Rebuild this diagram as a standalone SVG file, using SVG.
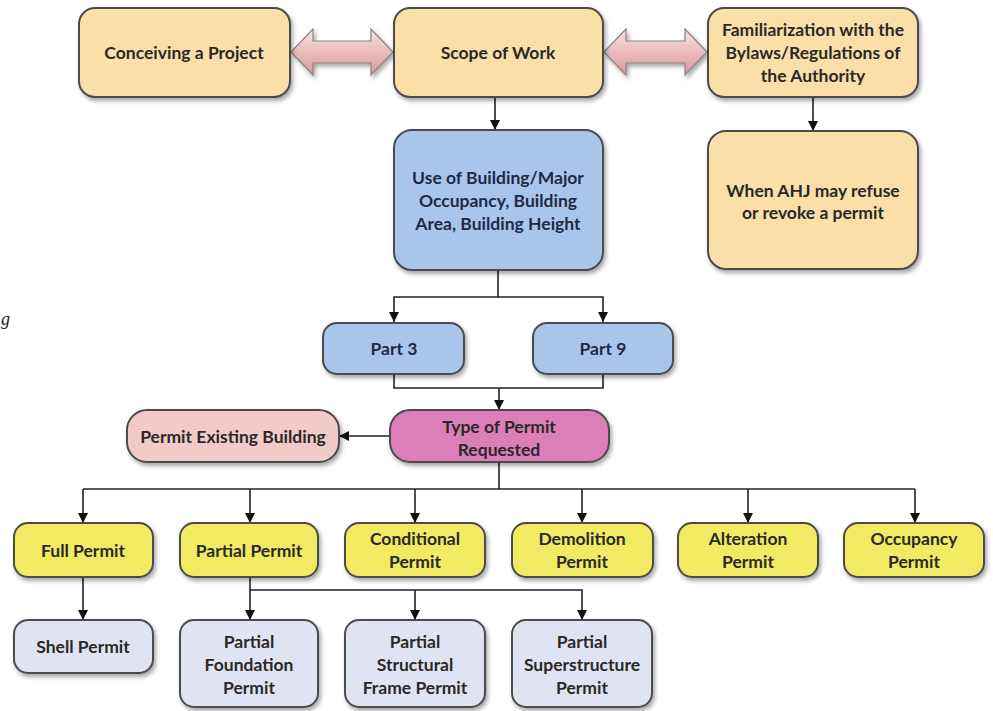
<svg xmlns="http://www.w3.org/2000/svg" width="993" height="711" viewBox="0 0 993 711">
<defs>
<filter id="sh" x="-10%" y="-10%" width="130%" height="140%">
<feDropShadow dx="2" dy="3" stdDeviation="2" flood-color="#000" flood-opacity="0.35"/>
</filter>
<linearGradient id="dg" x1="0" y1="0" x2="0" y2="1">
<stop offset="0" stop-color="#f7e2e2"/>
<stop offset="0.5" stop-color="#e9bcbc"/>
<stop offset="1" stop-color="#d49a9a"/>
</linearGradient>
<marker id="ah" viewBox="0 0 10 10" refX="10" refY="5" markerWidth="10" markerHeight="10" markerUnits="userSpaceOnUse" orient="auto">
<path d="M0,0 L10,5 L0,10 z" fill="#111"/>
</marker>
<style>
.n rect{stroke:#4b4b4b;stroke-width:2;filter:url(#sh)}
.tan rect{fill:#fae0a8}
.blue rect{fill:#a9c6ea}
.pink rect{fill:#dc7fb8}
.lpink rect{fill:#f3caca}
.yel rect{fill:#f1ea62}
.lav rect{fill:#e0e4f2}
text{font-family:Lato,"Liberation Sans",sans-serif;font-weight:bold;font-size:17.5px;text-anchor:middle;dominant-baseline:central;fill:#2b2826}
.blue text{fill:#1e2a45}
.c path,.c line,.c polyline{stroke:#222;stroke-width:1.6;fill:none}
.dbl{fill:url(#dg);stroke:#8a8080;stroke-width:1.2;filter:url(#sh)}
</style>
</defs>
<rect width="993" height="711" fill="#fff"/>
<text x="1" y="319" style="font-family:'Liberation Serif',serif;font-style:italic;font-weight:normal;font-size:18px;text-anchor:start;fill:#222">g</text>

<g id="connectors" class="c">
<polygon class="dbl" points="291,52 313,29 313,41 371,41 371,29 393,52 371,75 371,63 313,63 313,75"/>
<polygon class="dbl" points="604,52 626,29 626,41 685,41 685,29 707,52 685,75 685,63 626,63 626,75"/>
<line x1="495" y1="97" x2="495" y2="130" marker-end="url(#ah)"/>
<line x1="813" y1="97" x2="813" y2="131" marker-end="url(#ah)"/>
<polyline points="498,270 498,297 394,297 394,322" marker-end="url(#ah)"/>
<polyline points="498,297 603,297 603,322" marker-end="url(#ah)"/>
<polyline points="394,374 394,388 603,388 603,374"/>
<line x1="499" y1="388" x2="499" y2="410" marker-end="url(#ah)"/>
<line x1="390" y1="436" x2="339" y2="436" marker-end="url(#ah)"/>
<line x1="499" y1="462" x2="499" y2="489"/>
<line x1="83" y1="489" x2="915" y2="489"/>
<line x1="83" y1="489" x2="83" y2="523" marker-end="url(#ah)"/>
<line x1="250" y1="489" x2="250" y2="523" marker-end="url(#ah)"/>
<line x1="415" y1="489" x2="415" y2="523" marker-end="url(#ah)"/>
<line x1="582" y1="489" x2="582" y2="523" marker-end="url(#ah)"/>
<line x1="748" y1="489" x2="748" y2="523" marker-end="url(#ah)"/>
<line x1="915" y1="489" x2="915" y2="523" marker-end="url(#ah)"/>
<line x1="83" y1="577" x2="83" y2="620" marker-end="url(#ah)"/>
<line x1="250" y1="577" x2="250" y2="620" marker-end="url(#ah)"/>
<polyline points="250,590 582,590 582,620" marker-end="url(#ah)"/>
<line x1="415" y1="590" x2="415" y2="620" marker-end="url(#ah)"/>
</g>

<g id="conceiving" class="n tan"><rect x="79" y="8" width="211" height="89" rx="16"/><text x="184" y="52">Conceiving a Project</text></g>
<g id="scope" class="n tan"><rect x="394" y="8" width="209" height="89" rx="16"/><text x="498" y="52">Scope of Work</text></g>
<g id="familiarization" class="n tan"><rect x="708" y="8" width="210" height="89" rx="16"/><text x="813" y="29">Familiarization with the</text><text x="813" y="52">Bylaws/Regulations of</text><text x="813" y="75">the Authority</text></g>
<g id="use" class="n blue"><rect x="394" y="130" width="209" height="140" rx="18"/><text x="498" y="177">Use of Building/Major</text><text x="498" y="200">Occupancy, Building</text><text x="498" y="223">Area, Building Height</text></g>
<g id="ahj" class="n tan"><rect x="708" y="131" width="210" height="138" rx="18"/><text x="813" y="190">When AHJ may refuse</text><text x="813" y="212">or revoke a permit</text></g>
<g id="part3" class="n blue"><rect x="323" y="323" width="141" height="51" rx="14"/><text x="394" y="348">Part 3</text></g>
<g id="part9" class="n blue"><rect x="533" y="323" width="140" height="51" rx="14"/><text x="603" y="348">Part 9</text></g>
<g id="type" class="n pink"><rect x="390" y="410" width="219" height="52" rx="20"/><text x="499" y="426">Type of Permit</text><text x="499" y="449">Requested</text></g>
<g id="existing" class="n lpink"><rect x="127" y="410" width="212" height="52" rx="20"/><text x="233" y="436">Permit Existing Building</text></g>
<g id="full" class="n yel"><rect x="14" y="523" width="139" height="54" rx="14"/><text x="83" y="550">Full Permit</text></g>
<g id="partial" class="n yel"><rect x="180" y="523" width="138" height="54" rx="14"/><text x="249" y="550">Partial Permit</text></g>
<g id="conditional" class="n yel"><rect x="345" y="523" width="140" height="54" rx="14"/><text x="415" y="538">Conditional</text><text x="415" y="561">Permit</text></g>
<g id="demolition" class="n yel"><rect x="512" y="523" width="141" height="54" rx="14"/><text x="582" y="538">Demolition</text><text x="582" y="561">Permit</text></g>
<g id="alteration" class="n yel"><rect x="678" y="523" width="140" height="54" rx="14"/><text x="748" y="538">Alteration</text><text x="748" y="561">Permit</text></g>
<g id="occupancy" class="n yel"><rect x="844" y="523" width="140" height="54" rx="14"/><text x="914" y="538">Occupancy</text><text x="914" y="561">Permit</text></g>
<g id="shell" class="n lav"><rect x="14" y="620" width="139" height="53" rx="14"/><text x="83" y="646">Shell Permit</text></g>
<g id="foundation" class="n lav"><rect x="180" y="620" width="138" height="87" rx="14"/><text x="249" y="641">Partial</text><text x="249" y="664">Foundation</text><text x="249" y="687">Permit</text></g>
<g id="structural" class="n lav"><rect x="345" y="620" width="140" height="87" rx="14"/><text x="415" y="641">Partial</text><text x="415" y="664">Structural</text><text x="415" y="687">Frame Permit</text></g>
<g id="superstructure" class="n lav"><rect x="512" y="620" width="140" height="87" rx="14"/><text x="582" y="641">Partial</text><text x="582" y="664">Superstructure</text><text x="582" y="687">Permit</text></g>
</svg>
